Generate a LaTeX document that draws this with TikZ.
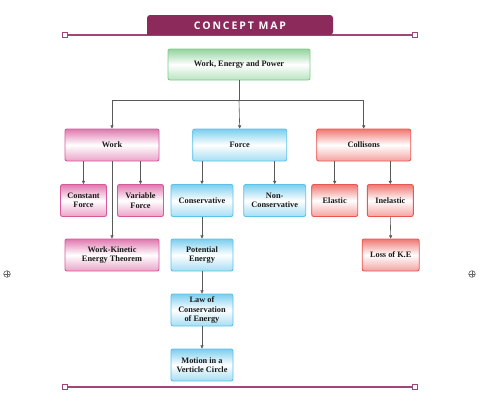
\documentclass[tikz,border=0pt]{standalone}
\usepackage{fontspec}
\setmainfont{Liberation Serif}
\newfontfamily\bannerfont[LetterSpace=18]{Open Sans}
\usetikzlibrary{arrows.meta}
\definecolor{plum}{HTML}{8C2A5C}
\definecolor{rim}{HTML}{A2457B}
\definecolor{leaf}{HTML}{7FCB8C}
\definecolor{rose}{HTML}{D9579B}
\definecolor{sky}{HTML}{5BC2EA}
\definecolor{coral}{HTML}{EA5650}
\tikzset{
  box/.style={draw, line width=0.9pt, rounded corners=2pt, inner sep=0pt,
    minimum height=32pt, align=center, font=\fontsize{8.3}{9.4}\selectfont\bfseries,
    text=black!90},
  greenbox/.style={box, draw=leaf, top color=leaf!85, bottom color=leaf!55, middle color=white},
  pinkbox/.style={box, draw=rose, top color=rose!80, bottom color=rose!55, middle color=white},
  bluebox/.style={box, draw=sky, top color=sky!80, bottom color=sky!55, middle color=white},
  redbox/.style={box, draw=coral, top color=coral!80, bottom color=coral!55, middle color=white},
  link/.style={line width=0.6pt, draw=black!65, -{Triangle[width=3.2pt,length=3.2pt]}},
  endsq/.style={draw=rim, line width=1.1pt, fill=white, minimum size=5.5pt, inner sep=0pt}
}
\begin{document}
\begin{tikzpicture}[x=1pt,y=-1pt]
  \useasboundingbox (0,0) rectangle (480,410);
  % frame lines and banner
  \draw[rim, line width=1.1pt] (65,35) -- (415,35);
  \draw[rim, line width=1.1pt] (65,387) -- (415,387);
  \foreach \yy in {35,387} {
    \node[endsq] at (65,\yy) {};
    \node[endsq] at (415,\yy) {};
  }
  \fill[plum, rounded corners=3pt] (147,35) -- (147,15) -- (333,15) -- (333,35) [sharp corners] -- cycle;
  \node[text=white, font=\bannerfont\fontsize{10.5}{12}\selectfont\bfseries] (title) at (240,25.5) {CONCEPT MAP};
  % registration marks
  \foreach \xx in {7,472} {
    \draw[black!60, line width=0.6pt] (\xx,274) circle (3.3pt);
    \draw[black!60, line width=0.5pt] (\xx-3.3,274) -- (\xx+3.3,274) (\xx,270.7) -- (\xx,277.3);
  }
  % nodes
  \node[greenbox, minimum width=142pt, minimum height=31pt] (wep) at (239,64.5) {Work, Energy and Power};
  \node[pinkbox, minimum width=94pt] (work) at (112,145) {Work};
  \node[bluebox, minimum width=94pt] (force) at (239.7,145) {Force};
  \node[redbox, minimum width=94pt] (coll) at (363.7,145) {Collisons};
  \node[pinkbox, minimum width=46pt] (const) at (83.5,200.5) {Constant\\Force};
  \node[pinkbox, minimum width=46pt] (var) at (140.5,200.5) {Variable\\Force};
  \node[pinkbox, minimum width=94pt] (wke) at (112,255) {Work-Kinetic\\Energy Theorem};
  \node[bluebox, minimum width=62pt] (cons) at (202,200.5) {Conservative};
  \node[bluebox, minimum width=62pt] (ncons) at (274.7,200.5) {Non-\\Conservative};
  \node[bluebox, minimum width=62pt] (pe) at (202,255) {Potential\\Energy};
  \node[bluebox, minimum width=62pt] (law) at (202,310) {Law of\\Conservation\\of Energy};
  \node[bluebox, minimum width=62pt] (motion) at (202,365) {Motion in a\\Verticle Circle};
  \node[redbox, minimum width=46pt] (elastic) at (334.7,200.5) {Elastic};
  \node[redbox, minimum width=46pt] (inel) at (390.3,200.5) {Inelastic};
  \node[redbox, minimum width=57pt] (loss) at (390.7,255) {Loss of K.E};
  % connectors
  \draw[line width=0.6pt, draw=black!65] (wep.south) -- ++(0,20) coordinate (hub);
  \draw[link] (hub) -| (work.north);
  \draw[link] (hub) -- (force.north);
  \draw[link] (hub) -| (coll.north);
  \draw[link] (const.north |- work.south) -- (const.north);
  \draw[link] (var.north |- work.south) -- (var.north);
  \draw[link] (work.south) -- (wke.north);
  \draw[link] (cons.north |- force.south) -- (cons.north);
  \draw[link] (ncons.north |- force.south) -- (ncons.north);
  \draw[link] (cons.south) -- (pe.north);
  \draw[link] (pe.south) -- (law.north);
  \draw[link] (law.south) -- (motion.north);
  \draw[link] (elastic.north |- coll.south) -- (elastic.north);
  \draw[link] (inel.north |- coll.south) -- (inel.north);
  \draw[link] (inel.south) -- (loss.north);
\end{tikzpicture}
\end{document}
